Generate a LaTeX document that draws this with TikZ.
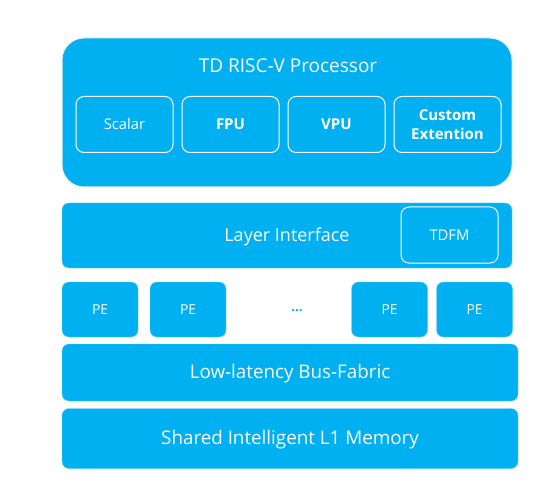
\documentclass[tikz,border=0pt]{standalone}
\usepackage{fontspec}
\setmainfont{Open Sans}
\usetikzlibrary{positioning}
\definecolor{skyblue}{HTML}{00B0F0}

\begin{document}
\begin{tikzpicture}[x=1pt, y=-1pt,
  layer/.style={rectangle, rounded corners=7pt, fill=skyblue, draw=skyblue!60, line width=0.4pt, minimum width=456pt, minimum height=58pt, inner sep=0pt, text=white, font=\fontsize{18.8}{20}\selectfont, text height={0.71em+5pt}, text depth=0pt},
  unit/.style={rectangle, rounded corners=8pt, fill=skyblue, draw=white, line width=1pt, minimum width=97pt, minimum height=56pt, inner sep=0pt, text=white, font=\fontsize{14.8}{16}\selectfont, align=center},
  pe/.style={rectangle, rounded corners=7pt, fill=skyblue, draw=skyblue!60, line width=0.4pt, minimum width=76pt, minimum height=55pt, inner sep=0pt, text=white, font=\fontsize{13.8}{15}\selectfont, text height={0.71em+3pt}, text depth=0pt}
]
\useasboundingbox (0,0) rectangle (560,500);

% processor
\node[rectangle, rounded corners=22pt, fill=skyblue, draw=gray!15, line width=1pt, minimum width=450pt, minimum height=149pt] (cpu) at (287,112.5) {};
\node[text=white, font=\fontsize{19}{20}\selectfont] (cputitle) at (288,66) {TD RISC-V Processor};
\node[unit, text height={0.71em+3pt}, text depth=0pt] (scalar) at (124.5,124.5) {Scalar};
\node[unit, right=8pt of scalar, text height={0.71em+3pt}, text depth=0pt, font=\fontsize{15}{16}\selectfont\bfseries] (fpu) {FPU};
\node[unit, right=8pt of fpu, text height={0.71em+3pt}, text depth=0pt, font=\fontsize{15}{16}\selectfont\bfseries] (vpu) {VPU};
\node[unit, right=8pt of vpu, minimum width=107pt, font=\fontsize{15}{19}\selectfont\bfseries] (custom) {Custom\\Extention};

% layer interface
\node[layer, minimum width=450pt, minimum height=65pt, font=\fontsize{18}{19}\selectfont] (iface) at (287,235.5) {Layer Interface};
\node[unit, text height={0.71em+3pt}, text depth=0pt] (tdfm) at (449.5,235) {TDFM};

% processing elements
\node[pe] (pe1) at (100,309.5) {PE};
\node[pe] (pe2) at (188,309.5) {PE};
\node[text=skyblue, font=\fontsize{13}{14}\selectfont\bfseries] (dots) at (297,311) {...};
\node[pe] (pe3) at (389.5,309.5) {PE};
\node[pe] (pe4) at (474.5,309.5) {PE};

% bus and memory
\node[layer, minimum height=57pt] (bus) at (290,372.5) {Low-latency Bus-Fabric};
\node[layer, minimum height=60pt] (mem) at (290,438.5) {Shared Intelligent L1 Memory};

\end{tikzpicture}
\end{document}
